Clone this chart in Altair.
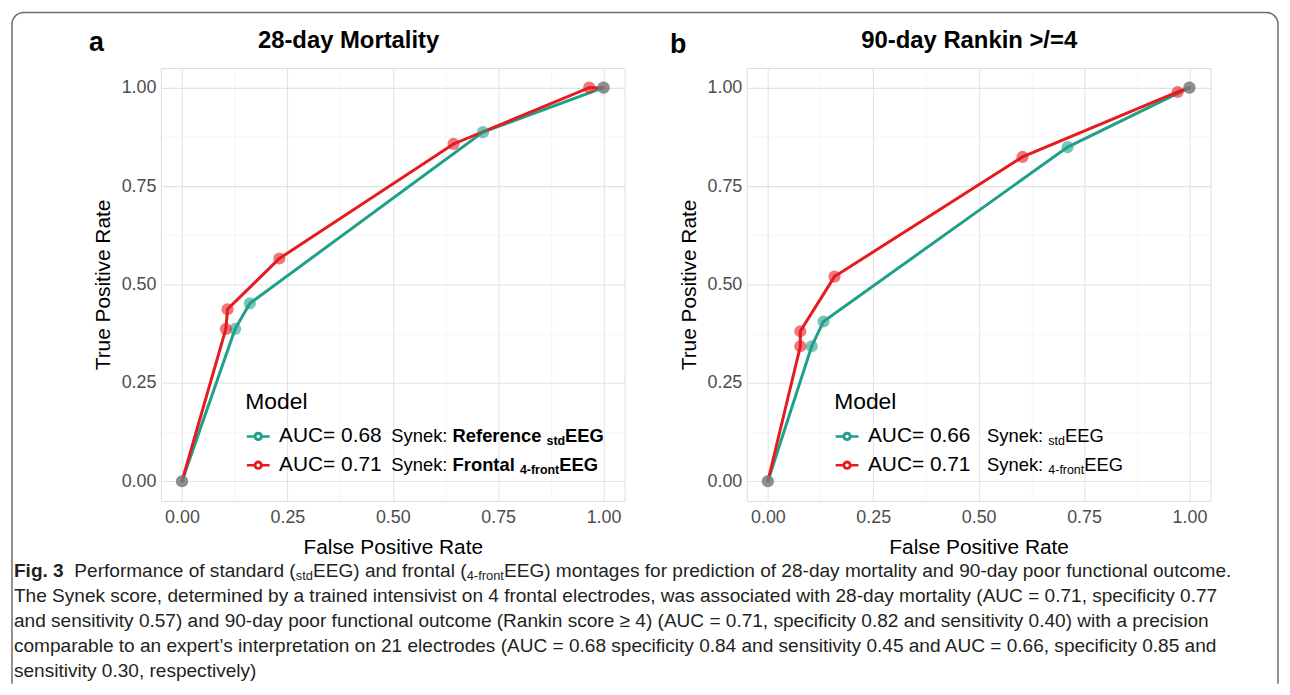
import altair as alt
import pandas as pd

# ---------------- data ----------------
panel_titles = ["28-day Mortality", "90-day Rankin >/=4"]
panel_letters = ["a", "b"]

a_models = ["AUC= 0.68", "AUC= 0.71"]
a_std_fpr = [0.0, 0.126, 0.161, 0.714, 1.0]
a_std_tpr = [0.0, 0.387, 0.452, 0.887, 1.0]
a_front_fpr = [0.0, 0.104, 0.108, 0.231, 0.644, 0.966, 1.0]
a_front_tpr = [0.0, 0.387, 0.437, 0.566, 0.857, 1.0, 1.0]

b_models = ["AUC= 0.66", "AUC= 0.71"]
b_std_fpr = [0.0, 0.104, 0.132, 0.711, 1.0]
b_std_tpr = [0.0, 0.343, 0.406, 0.849, 1.0]
b_front_fpr = [0.0, 0.077, 0.077, 0.158, 0.604, 0.972, 1.0]
b_front_tpr = [0.0, 0.343, 0.381, 0.520, 0.824, 0.989, 1.0]

grid_values = [0.0, 0.125, 0.25, 0.375, 0.5, 0.625, 0.75, 0.875, 1.0]

legend_title = "Model"
a_legend_notes = [
    [("Synek: ", "r"), ("Reference ", "b"), ("std", "bs"), ("EEG", "b")],
    [("Synek: ", "r"), ("Frontal ", "b"), ("4-front", "bs"), ("EEG", "b")],
]
b_legend_notes = [
    [("Synek: ", "r"), ("std", "rs"), ("EEG", "r")],
    [("Synek: ", "r"), ("4-front", "rs"), ("EEG", "r")],
]
caption_lines = [
    [("Fig. 3", "b"), ("  Performance of standard (", "r"), ("std", "rs"),
     ("EEG) and frontal (", "r"), ("4-front", "rs"),
     ("EEG) montages for prediction of 28-day mortality and 90-day poor functional outcome.", "r")],
    [("The Synek score, determined by a trained intensivist on 4 frontal electrodes, was associated with 28-day mortality (AUC = 0.71, specificity 0.77", "r")],
    [("and sensitivity 0.57) and 90-day poor functional outcome (Rankin score \u2265 4) (AUC = 0.71, specificity 0.82 and sensitivity 0.40) with a precision", "r")],
    [("comparable to an expert\u2019s interpretation on 21 electrodes (AUC = 0.68 specificity 0.84 and sensitivity 0.45 and AUC = 0.66, specificity 0.85 and", "r")],
    [("sensitivity 0.30, respectively)", "r")],
]

# ---------------- style ----------------
TEAL = "#1fa088"
RED = "#e61b1e"
FONT = "Liberation Sans"
W, H = 467, 436
one = pd.DataFrame({"k": [0]})

REG = {' ': 278, '!': 278, '"': 355, '#': 556, '$': 556, '%': 889, '&': 667, "'": 191, '(': 333, ')': 333,
       '*': 389, '+': 584, ',': 278, '-': 333, '.': 278, '/': 278, ':': 278, ';': 278, '<': 584, '=': 584,
       '>': 584, '?': 556, 'A': 667, 'B': 667, 'C': 722, 'D': 722, 'E': 667, 'F': 611, 'G': 778, 'H': 722,
       'I': 278, 'J': 500, 'K': 667, 'L': 556, 'M': 833, 'N': 722, 'O': 778, 'P': 667, 'Q': 778, 'R': 722,
       'S': 667, 'T': 611, 'U': 722, 'V': 667, 'W': 944, 'X': 667, 'Y': 667, 'Z': 611, 'a': 556, 'b': 556,
       'c': 500, 'd': 556, 'e': 556, 'f': 278, 'g': 556, 'h': 556, 'i': 222, 'j': 222, 'k': 500, 'l': 222,
       'm': 833, 'n': 556, 'o': 556, 'p': 556, 'q': 556, 'r': 333, 's': 500, 't': 278, 'u': 556, 'v': 500,
       'w': 722, 'x': 500, 'y': 500, 'z': 500, '\u2019': 222, '\u2265': 549}
BOLD = dict(REG)
BOLD.update({':': 333, 'A': 722, 'B': 722, 'J': 556, 'K': 722, 'L': 611, 'R': 722, 'b': 611, 'c': 556, 'd': 611,
             'f': 333, 'g': 611, 'h': 611, 'i': 278, 'j': 278, 'k': 556, 'l': 278, 'm': 889, 'n': 611, 'o': 611,
             'p': 611, 'q': 611, 'r': 389, 's': 556, 't': 333, 'u': 611, 'v': 556, 'w': 778, 'x': 556, 'y': 556})


def text_width(s, size, bold):
    table = BOLD if bold else REG
    return sum(table.get(c, 556) for c in s) * size / 1000.0


def seg_layers(rows, x0, ys, size_main, size_sub, sub_dy, color="black"):
    layers = []
    for row, y in zip(rows, ys):
        x = x0
        for text, style in row:
            bold = style.startswith("b")
            sub = style.endswith("s")
            size = size_sub if sub else size_main
            lead = len(text) - len(text.lstrip(" "))
            shown = text.strip(" ")
            xs = x + text_width(" " * lead, size, bold)
            layers.append(
                alt.Chart(one).mark_text(
                    text=shown, align="left", baseline="middle", font=FONT,
                    fontSize=size, fontWeight="bold" if bold else "normal", color=color
                ).encode(x=alt.value(xs), y=alt.value(y + (sub_dy if sub else 0)))
            )
            x += text_width(text, size, bold)
    return layers


def grid_cond(major, minor):
    return {"condition": {"test": "datum.value % 0.25 == 0", "value": major}, "value": minor}


def make_axis(title, orient):
    return alt.Axis(
        title=title, values=grid_values,
        labelExpr="datum.value % 0.25 == 0 ? format(datum.value, '.2f') : ''",
        ticks=False, domain=False, labelFlush=False, labelOverlap=False,
        labelFontSize=18, labelColor="#4d4d4d", labelFont=FONT,
        labelPadding=8 if orient == "x" else 5,
        titleFontSize=21, titleFontWeight="normal", titleColor="black", titleFont=FONT,
        titlePadding=10 if orient == "x" else 8,
        gridColor=grid_cond("#e3e3e3", "#f1f1f1"), gridWidth=grid_cond(1.1, 0.7),
    )


def roc_df(models, std_fpr, std_tpr, fr_fpr, fr_tpr):
    rows = []
    for i, (f, t) in enumerate(zip(std_fpr, std_tpr)):
        rows.append({"model": models[0], "fpr": f, "tpr": t, "idx": i})
    for i, (f, t) in enumerate(zip(fr_fpr, fr_tpr)):
        rows.append({"model": models[1], "fpr": f, "tpr": t, "idx": i})
    return pd.DataFrame(rows)


# legend key: a line with a ring (outer and inner circles wound in opposite directions -> hollow centre)
SYMBOL = ("M-1,0L-0.3,0M0.3,0L1,0"
          "M0.3,0A0.3,0.3,0,1,1,-0.3,0A0.3,0.3,0,1,1,0.3,0Z"
          "M0.26,0A0.26,0.26,0,1,0,-0.26,0A0.26,0.26,0,1,0,0.26,0Z")


def panel(df, models, letter, title, legend_x, note_rows, note_x, letter_x, letter_y, title_x, first=False):
    scale = alt.Scale(domain=[-0.05, 1.05], nice=False, zero=False)
    color_scale = alt.Scale(domain=models, range=[TEAL, RED])
    base = alt.Chart(df).encode(
        x=alt.X("fpr:Q", scale=scale, axis=make_axis("False Positive Rate", "x")),
        y=alt.Y("tpr:Q", scale=scale, axis=make_axis("True Positive Rate", "y")),
    )
    # hollow-point layer that carries the legend (its tiny marks sit under the big points)
    legend_layer = base.mark_point(size=1, fill="white", filled=False, strokeWidth=2).encode(
        color=alt.Color("model:N", scale=color_scale, legend=alt.Legend(
            orient="none", legendX=legend_x, legendY=325, title=legend_title,
            titleFontSize=23, titleFontWeight="normal", titleColor="black", titleFont=FONT,
            titlePadding=10, labelFontSize=21, labelColor="black", labelFont=FONT,
            labelOffset=8, rowPadding=6, symbolType=SYMBOL, symbolSize=529,
            symbolStrokeWidth=2.5, symbolFillColor="white", symbolOpacity=1, padding=0,
        )),
    )
    lines = base.mark_line(strokeWidth=3).encode(
        color=alt.Color("model:N", scale=color_scale, legend=None),
        order="idx:Q",
    )
    points = base.mark_circle(size=150, opacity=0.6).encode(
        color=alt.condition("datum.fpr <= 0 || datum.fpr >= 1", alt.value("#7a7a7a"),
                            alt.Color("model:N", scale=color_scale, legend=None)),
    )
    layers = []
    if first:
        layers.append(alt.Chart(one).mark_rect(
            fillOpacity=0, stroke="#6e6e6e", strokeWidth=1.5,
            cornerRadiusTopLeft=12, cornerRadiusTopRight=12,
        ).encode(x=alt.value(-150), x2=alt.value(1125), y=alt.value(-56), y2=alt.value(622)))
        layers.append(alt.Chart(one).mark_rule(color="white", strokeWidth=4).encode(
            x=alt.value(-151), x2=alt.value(1126), y=alt.value(622)))
    layers += [legend_layer, lines, points]
    layers.append(alt.Chart(one).mark_text(
        text=letter, align="center", baseline="middle", font=FONT, fontSize=27, fontWeight="bold",
        color="black").encode(x=alt.value(letter_x), y=alt.value(letter_y)))
    layers.append(alt.Chart(one).mark_text(
        text=title, align="center", baseline="middle", font=FONT, fontSize=24, fontWeight="bold",
        color="black").encode(x=alt.value(title_x), y=alt.value(-27)))
    layers += seg_layers(note_rows, note_x, [371, 400], 18.5, 12.5, 5)
    if first:
        layers += seg_layers(caption_lines, -148, [507, 532, 557, 582, 607], 19.2, 13, 4.5, color="#231f20")
    return alt.layer(*layers).properties(width=W, height=H)


df_a = roc_df(a_models, a_std_fpr, a_std_tpr, a_front_fpr, a_front_tpr)
df_b = roc_df(b_models, b_std_fpr, b_std_tpr, b_front_fpr, b_front_tpr)

pa = panel(df_a, a_models, panel_letters[0], panel_titles[0], 85, a_legend_notes, 232, -65, -25, 189, first=True)
pb = panel(df_b, b_models, panel_letters[1], panel_titles[1], 88, b_legend_notes, 242, -69, -23, 224)

chart = alt.hconcat(pa, pb, spacing=123, bounds="flush").resolve_scale(
    color="independent", x="independent", y="independent"
).resolve_legend(color="independent").properties(
    padding=0
).configure_view(stroke="transparent").configure(font=FONT)

chart.save("out.html", embed_options={"renderer": "svg", "actions": False})
